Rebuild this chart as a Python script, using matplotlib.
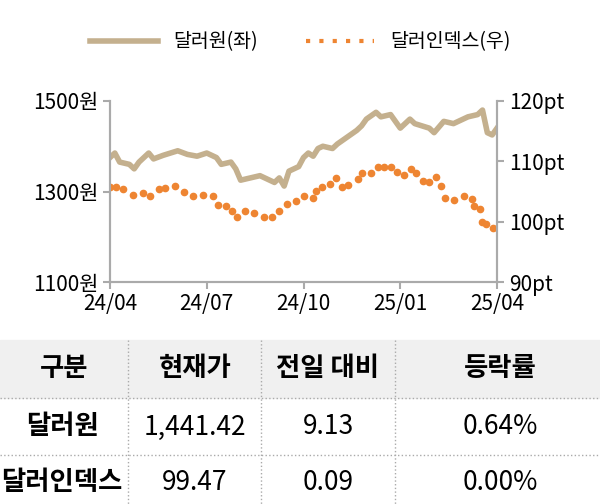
import matplotlib
matplotlib.use("Agg")
import matplotlib.pyplot as plt
from matplotlib.lines import Line2D
from matplotlib import font_manager

names = {f.name for f in font_manager.fontManager.ttflist}
cands = [n for n in ['Noto Sans CJK KR','Noto Sans CJK JP','Noto Sans CJK SC','Noto Sans CJK TC'] if n in names]
plt.rcParams['font.family'] = 'sans-serif'
plt.rcParams['font.sans-serif'] = cands + ['DejaVu Sans']

won_x = [0,0.05,0.1,0.2,0.25,0.3,0.4,0.45,0.55,0.7,0.8,0.9,1.0,1.1,1.15,1.25,1.3,1.35,1.45,1.55,1.65,1.7,1.75,1.8,1.85,1.95,2.0,2.05,2.1,2.15,2.2,2.3,2.35,2.45,2.55,2.6,2.65,2.75,2.8,2.9,3.0,3.05,3.1,3.15,3.3,3.35,3.45,3.55,3.6,3.7,3.8,3.85,3.9,3.95,4.0]
won_y = [1375,1385,1365,1360,1350,1365,1385,1372,1380,1390,1382,1378,1385,1375,1360,1365,1350,1325,1330,1335,1325,1320,1330,1312,1345,1355,1375,1385,1378,1395,1400,1395,1405,1420,1435,1445,1460,1475,1465,1470,1440,1450,1460,1450,1440,1430,1455,1450,1455,1465,1470,1480,1430,1425,1440]

dx_px = [290,305,325,350,377,395,417,433,458,483,507,531,557,570,592,609,622,642,666,690,711,730,752,774,795,820,826,842,864,878,893,909,936,947,970,987,1004,1022,1037,1055,1073,1088,1104,1121,1140,1152,1162,1187,1211,1234,1238,1254,1260,1270,1288]
dx_y = [105.7,105.8,105.4,104.5,104.7,104.2,105.4,105.5,105.9,105,104.2,104.4,104.3,102.8,102.6,101.8,100.7,101.8,101.5,100.8,100.8,101.8,103,103.5,104.3,104,105.1,105.7,106.3,107.2,105.8,106,107,108,108,109,109.1,109,108.2,107.7,108.8,108,106.7,106.6,107.4,105.9,103.9,103.6,104.2,103.8,102.6,102.1,100,99.6,98.9]
dx_x = [(p-290)/252 for p in dx_px]

xlabels = ['24/04','24/07','24/10','25/01','25/04']
headers = ['구분','현재가','전일 대비','등락률']
rows = [['달러원','1,441.42','9.13','0.64%'],['달러인덱스','99.47','0.09','0.00%']]

fig = plt.figure(figsize=(6,5.04), dpi=100)
ax = fig.add_axes([110/600, 1-282/504, 387/600, 181/504])
ax.plot(won_x, won_y, color='#c4b08e', lw=4)
ax.set_ylim(1100,1500); ax.set_xlim(0,4)
ax.set_yticks([1100,1300,1500]); ax.set_yticklabels(['1100원','1300원','1500원'])
ax.set_xticks(range(5)); ax.set_xticklabels(xlabels)
ax2 = ax.twinx()
ax2.plot(dx_x, dx_y, ls='none', marker='o', ms=4.5, color='#ee8532')
ax2.set_ylim(90,120); ax2.set_yticks([90,100,110,120]); ax2.set_yticklabels(['90pt','100pt','110pt','120pt'])
for a in (ax, ax2):
    for s in a.spines.values(): s.set_color('#aaaaaa'); s.set_linewidth(1.5)
    a.spines['top'].set_visible(False)
    a.tick_params(colors='#aaaaaa', labelcolor='black', labelsize=15, length=5, width=1.5)
ax.tick_params(axis='x', pad=3)

fig.legend([Line2D([],[],color='#c4b08e',lw=4), Line2D([],[],color='#ee8532',ls=(0,(1,2.2)),lw=3)],
           ['달러원(좌)','달러인덱스(우)'], loc='center', bbox_to_anchor=(0.5,1-42/504), ncol=2,
           frameon=False, fontsize=14, handlelength=3.5, columnspacing=2.5)

def fy(p): return 1-p/504
fig.patches.append(plt.Rectangle((0,fy(398)),1,(398-340)/504, transform=fig.transFigure, color='#f0f0f0', zorder=0))
for yp in (398,455):
    fig.add_artist(Line2D([0,1],[fy(yp)]*2, color='#aaaaaa', ls=':', lw=1))
for xp in (128,261,395):
    fig.add_artist(Line2D([xp/600]*2,[fy(340),0], color='#aaaaaa', ls=':', lw=1))
cx = [64,195,328,500]
for i,h in enumerate(headers):
    fig.text(cx[i]/600, fy(369), h, ha='center', va='center', fontsize=19, fontweight='bold')
for r,yp in zip(rows,(427,482)):
    for i,v in enumerate(r):
        fig.text(cx[i]/600 if i else 62/600, fy(yp), v, ha='center', va='center', fontsize=19,
                 fontweight='bold' if i==0 else 'normal')
fig.savefig('out.png', dpi=100)
